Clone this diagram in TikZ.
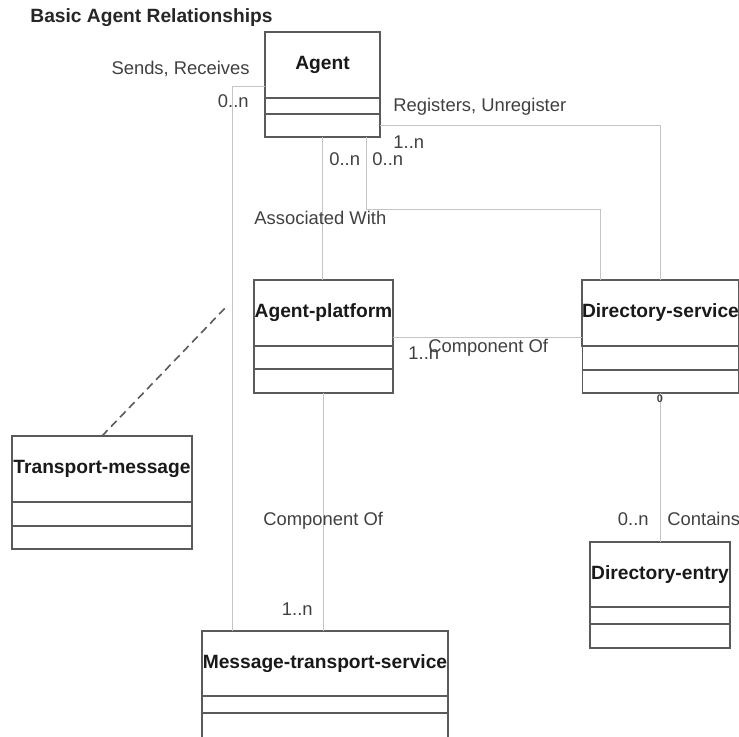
\documentclass[tikz,border=0pt]{standalone}
\usepackage{fontspec}
\setmainfont{Liberation Sans}
\usepackage{tikz}
\usetikzlibrary{positioning}
\definecolor{boxgray}{HTML}{5A5A5A}
\definecolor{linkgray}{HTML}{C4C4C4}
\definecolor{textgray}{HTML}{404040}

\begin{document}
\begin{tikzpicture}[x=0.5pt,y=-0.5pt]
	\tikzstyle{cls}
	  =[draw=boxgray, line width=0.6pt, rectangle, inner sep=0pt, outer sep=0pt,
	  minimum height=33pt, font=\fontsize{9.6}{11}\selectfont\bfseries,
	  text=black!90, text centered]
	\tikzstyle{cmp}
	  =[draw=boxgray, line width=0.6pt, rectangle, inner sep=0pt, outer sep=0pt]
	\tikzstyle{link}
	  =[draw=linkgray, line width=0.5pt]
	\tikzstyle{lbl}
	  =[inner sep=0pt, text=textgray, font=\fontsize{9.2}{11}\selectfont]

	\useasboundingbox (0,0) rectangle (739,736);

	\node[anchor=west, inner sep=0pt, text=black!85,
	  font=\fontsize{9.6}{11}\selectfont\bfseries] (title)
	  at (30,18) {Basic Agent Relationships};

	% classes
	\node[cls, minimum width=57.5pt, anchor=north west] (agent)
	  at (265,32) {Agent};
	\node[cmp, minimum width=57.5pt, minimum height=8pt] (agent-a)
	  [below=0pt of agent] {};
	\node[cmp, minimum width=57.5pt, minimum height=11.5pt] (agent-b)
	  [below=0pt of agent-a] {};

	\node[cls, minimum width=69.5pt, anchor=north west] (platform)
	  at (254,280) {Agent-platform};
	\node[cmp, minimum width=69.5pt, minimum height=11.5pt] (platform-a)
	  [below=0pt of platform] {};
	\node[cmp, minimum width=69.5pt, minimum height=12pt] (platform-b)
	  [below=0pt of platform-a] {};

	\node[cls, minimum width=78pt, anchor=north west] (dirsvc)
	  at (582,280) {Directory-service};
	\node[cmp, minimum width=78pt, minimum height=12pt] (dirsvc-a)
	  [below=0pt of dirsvc] {};
	\node[cmp, minimum width=78pt, minimum height=11.5pt] (dirsvc-b)
	  [below=0pt of dirsvc-a] {};

	\node[cls, minimum width=90pt, anchor=north west] (tmsg)
	  at (12,436) {Transport-message};
	\node[cmp, minimum width=90pt, minimum height=12pt] (tmsg-a)
	  [below=0pt of tmsg] {};
	\node[cmp, minimum width=90pt, minimum height=11.5pt] (tmsg-b)
	  [below=0pt of tmsg-a] {};

	\node[cls, minimum width=70pt, minimum height=32.5pt, anchor=north west] (dirent)
	  at (590,542) {Directory-entry};
	\node[cmp, minimum width=70pt, minimum height=8.5pt] (dirent-a)
	  [below=0pt of dirent] {};
	\node[cmp, minimum width=70pt, minimum height=12pt] (dirent-b)
	  [below=0pt of dirent-a] {};

	\node[cls, minimum width=123pt, minimum height=32.5pt, anchor=north west] (mts)
	  at (202,631) {Message-transport-service};
	\node[cmp, minimum width=123pt, minimum height=8.5pt] (mts-a)
	  [below=0pt of mts] {};
	\node[cmp, minimum width=123pt, minimum height=15pt] (mts-b)
	  [below=0pt of mts-a] {};

	% associations
	\draw[link] ([yshift=-10.5pt]agent.west) -| ([xshift=15pt]mts.north west);
	\draw[link] (agent-b.south) -- (agent-b.south |- platform.north);
	\draw[link] ([xshift=-7pt]agent-b.south east) -- ++(0,-36pt)
	  -| ([xshift=9pt]dirsvc.north west);
	\draw[link] (agent-b.east) -| (dirsvc.north);
	\draw[link] ([yshift=-12pt]platform.east) -- ([yshift=-12pt]dirsvc.west);
	\draw[link] (platform-b.south) -- (platform-b.south |- mts.north);
	\draw[link] (dirsvc-b.south) -- (dirsvc-b.south |- dirent.north);
	\coordinate (tmsg-end) at (227,306);
	\draw[boxgray, line width=0.8pt, dash pattern=on 4pt off 2.5pt]
	  (tmsg.north) -- (tmsg-end);

	% labels
	\node[lbl, anchor=east] (sends) at (250,69) {Sends, Receives};
	\node[lbl, anchor=east] (sends-m) at (249,101) {0..n};
	\node[lbl, anchor=west] (regs) at (393,107) {Registers, Unregister};
	\node[lbl, anchor=west] (regs-m) at (393,142) {1..n};
	\node[lbl, anchor=west] (dir-m) at (372,159) {0..n};
	\node[lbl, anchor=west] (assoc-m) at (329,159) {0..n};
	\node[lbl, anchor=west] (assoc) at (254,218) {Associated With};
	\node[lbl, anchor=west] (comp-m) at (408,353) {1..n};
	\node[lbl, anchor=west] (comp) at (428,348) {Component Of};
	\node[lbl, anchor=west] (comp2) at (263,521) {Component Of};
	\node[lbl, anchor=east] (comp2-m) at (313,609) {1..n};
	\node[lbl, anchor=east] (cont-m) at (649,519) {0..n};
	\node[lbl, anchor=west] (cont) at (667,519) {Contains};
	\node[lbl, font=\fontsize{5.5}{6}\selectfont\bfseries] (dirsvc-m)
	  at (660,399) {0};
\end{tikzpicture}
\end{document}
